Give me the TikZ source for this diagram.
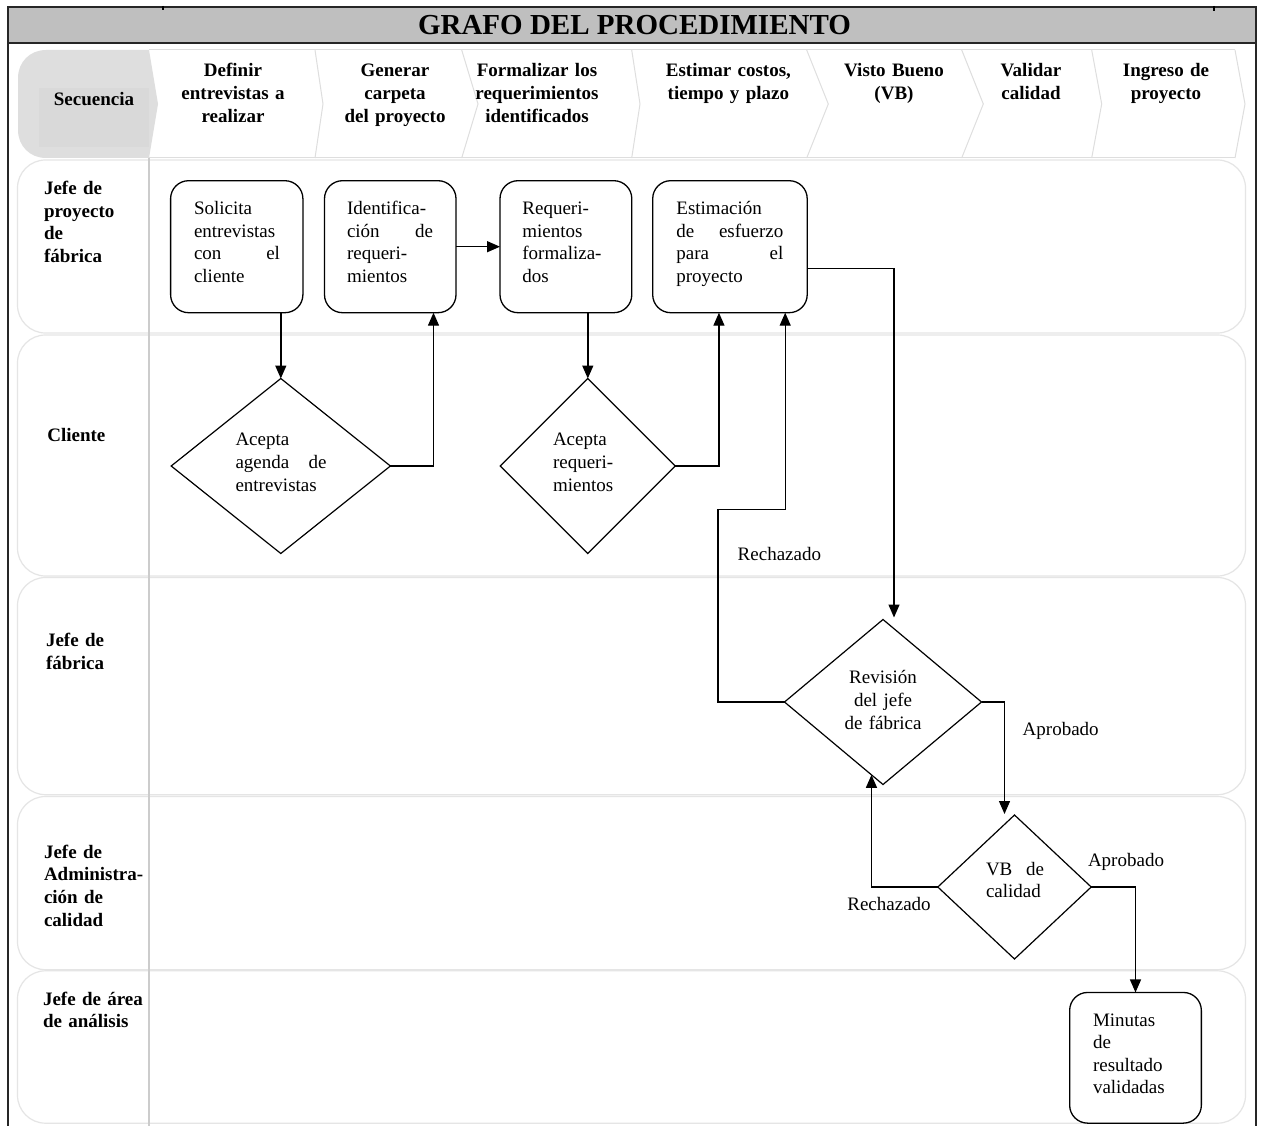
\documentclass[tikz,border=0pt]{standalone}
\usepackage{fontspec}
\setmainfont{Liberation Serif}
\usetikzlibrary{arrows.meta,shapes.geometric}
\begin{document}
\begin{tikzpicture}[x=1pt,y=-1pt,
  every node/.style={font=\fontsize{19}{22.6}\selectfont, inner sep=0pt, outer sep=0pt},
  procbox/.style={draw=black, line width=1.3pt, rounded corners=18pt, minimum height=132pt},
  decision/.style={draw=black, line width=1.2pt, diamond},
  txt/.style={anchor=base west, align=left, text width=#1},
  lanelabel/.style={anchor=base west, align=left, text width=110pt,
    font=\fontsize{19}{22.6}\selectfont\bfseries},
  steplabel/.style={anchor=base, align=center, text width=150pt,
    font=\fontsize{19}{23}\selectfont\bfseries},
  edgelabel/.style={anchor=base},
  lane/.style={draw=black!10, line width=1.2pt, rounded corners=28pt},
  chev/.style={draw=black!13, line width=1pt},
  flow/.style={draw=black, line width=1.4pt, -{Triangle[length=13pt,width=11pt]}},
  frameline/.style={draw=black!85, line width=1.6pt},
]
\useasboundingbox (0,0) rectangle (1261,1126);
\fill[white] (0,0) rectangle (1261,1126);

% ---- title bar ----
\fill[black!25] (8,7) rectangle (1256,42.7);
\draw[frameline] (8,1126) -- (8,7) -- (1256,7) -- (1256,1126);
\draw[draw=black!85, line width=2pt] (8,42.7) -- (1256,42.7);
\draw[line width=1.5pt] (163,6) -- (163,10);
\draw[line width=1.5pt] (1214,6) -- (1214,11);
\node[font=\fontsize{29}{30}\selectfont\bfseries, anchor=base] (title) at (634.5,34.5) {GRAFO DEL PROCEDIMIENTO};

% ---- sequence row (chevrons) ----
\fill[black!13] (158,104) -- (149,50) -- (46,50) .. controls (30,50) and (18,62) .. (18,78)
  -- (18,130) .. controls (18,146) and (30,158) .. (46,158) -- (149,158) -- cycle;
\fill[black!15] (39,88) rectangle (149,147);
\draw[chev] (149,50) -- (1235,50);
\draw[chev] (149,158) -- (1235,158);
\foreach \a/\b in {315/323, 461.7/478, 631.7/640, 806.7/828.3, 961.7/983.3, 1091.7/1101.7, 1235/1245}
  \draw[chev] (\a,50) -- (\b,104) -- (\a,158);
\node[font=\fontsize{19}{22.6}\selectfont\bfseries, anchor=base] (seq) at (94,106) {Secuencia};
\node[steplabel] (s1) at (233,76.5) {Definir\\entrevistas a\\realizar};
\node[steplabel] (s2) at (395,76.5) {Generar\\carpeta\\del proyecto};
\node[steplabel] (s3) at (537,76.5) {Formalizar los\\requerimientos\\identificados};
\node[steplabel] (s4) at (728.4,76.5) {Estimar costos,\\tiempo y plazo};
\node[steplabel] (s5) at (894,76.5) {Visto Bueno\\(VB)};
\node[steplabel] (s6) at (1031,76.5) {Validar\\calidad};
\node[steplabel] (s7) at (1166,76.5) {Ingreso de\\proyecto};

% ---- swimlanes ----
\draw[lane] (17.5,160) rectangle (1245.5,333);
\draw[lane] (17.5,335) rectangle (1245.5,576);
\draw[lane] (17.5,577.5) rectangle (1245.5,794.7);
\draw[lane] (17.5,796.5) rectangle (1245.5,969.7);
\draw[lane] (17.5,970.8) rectangle (1245.5,1123.2);
\draw[draw=black!20, line width=2pt] (149,158) -- (149,1126);

\node[lanelabel] (l1) at (44,194.8) {Jefe de\\proyecto\\de\\fábrica};
\node[lanelabel] (l2) at (47.3,441.5) {Cliente};
\node[lanelabel] (l3) at (46,646.5) {Jefe de\\fábrica};
\node[lanelabel] (l4) at (44,858.2) {Jefe de\\Administra-\\ción de\\calidad};
\node[lanelabel] (l5) at (43,1005) {Jefe de área\\de análisis};

% ---- activities ----
\node[procbox, minimum width=132.3pt] (sol) at (236.75,246.7) {};
\node[procbox, minimum width=131.5pt] (ide) at (390.25,246.7) {};
\node[procbox, minimum width=131.8pt] (req) at (565.9,246.7) {};
\node[procbox, minimum width=154.5pt] (est) at (729.95,246.7) {};
\node[procbox, minimum width=131.7pt, minimum height=130.7pt] (mnt) at (1135.5,1057.8) {};

\node[txt=86pt] (tsol) at (194,214.5) {Solicita\\entrevistas\\con\hfill el\\cliente};
\node[txt=86pt] (tide) at (347,214.5) {Identifica-\\ción\hfill de\\requeri-\\mientos};
\node[txt=86pt] (treq) at (522.4,214.5) {Requeri-\\mientos\\formaliza-\\dos};
\node[txt=107pt] (test) at (676.4,214.5) {Estimación\\de\hfill esfuerzo\\para\hfill el\\proyecto};
\node[txt=90pt] (tmnt) at (1093,1026) {Minutas\\de\\resultado\\validadas};

% ---- decisions ----
\node[decision, minimum width=219.2pt, minimum height=175pt] (d1) at (280.8,466) {};
\node[decision, minimum width=175pt, minimum height=175pt] (d2) at (587.8,466) {};
\node[decision, minimum width=197pt, minimum height=165pt] (d3) at (883,702) {};
\node[decision, minimum width=153.4pt, minimum height=144pt] (d4) at (1014.5,887) {};

\node[txt=91pt] (td1) at (235.5,445.8) {Acepta\\agenda\hfill de\\entrevistas};
\node[txt=80pt] (td2) at (553,445.8) {Acepta\\requeri-\\mientos};
\node[anchor=base, align=center, text width=110pt] (td3) at (883,683.8) {Revisión\\del jefe\\de fábrica};
\node[txt=58pt] (td4) at (986,875.2) {VB\hfill de\\calidad};

% ---- flows ----
\draw[flow] (sol.south -| d1.north) -- (d1.north);
\draw[flow] (d1.east) -| ([xshift=43.25pt]ide.south);
\draw[flow] (ide.east) -- (req.west);
\draw[flow] (req.south -| d2.north) -- (d2.north);
\draw[flow] (d2.east) -| ([xshift=-11pt]est.south);
\draw[flow] ([yshift=-21.6pt]est.east) -| ([xshift=11pt,yshift=2pt]d3.north);
\coordinate (back1) at (718,509.3);
\draw[flow] (d3.west) -| (back1) -| ([xshift=55.25pt]est.south);
\draw[flow] (d3.east) -| ([xshift=-10pt,yshift=1pt]d4.north);
\draw[flow] (d4.west) -| (d3.261.6);
\draw[flow] (d4.east) -| (mnt.north);

\node[edgelabel] (lr1) at (779.4,560.5) {Rechazado};
\node[edgelabel] (la1) at (1060.7,735.5) {Aprobado};
\node[edgelabel] (lr2) at (889,910) {Rechazado};
\node[edgelabel] (la2) at (1126,866.9) {Aprobado};
\end{tikzpicture}
\end{document}
